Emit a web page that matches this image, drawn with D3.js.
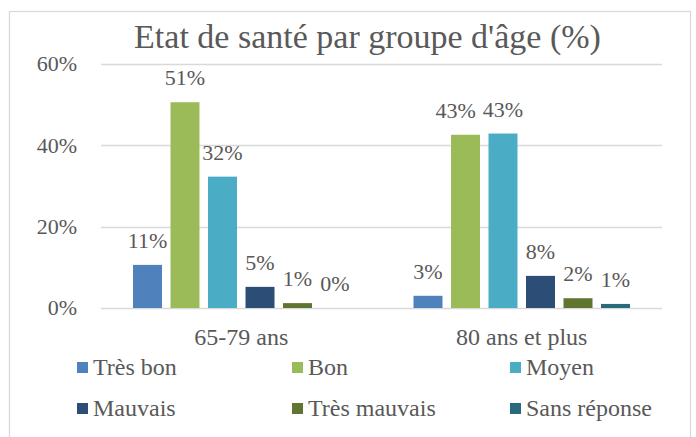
<!DOCTYPE html>
<html>
<head>
<meta charset="utf-8">
<script src="https://cdn.jsdelivr.net/npm/d3@7"></script>
<style>
  body { margin: 0; background: #fff; }
</style>
</head>
<body>
<svg id="chart"></svg>
<script>
// Chart data
const groups = ["65-79 ans", "80 ans et plus"];
const categories = ["Très bon", "Bon", "Moyen", "Mauvais", "Très mauvais", "Sans réponse"];
const values6579 = [10.6, 50.6, 32.3, 5.2, 1.2, 0];
const values80 = [3.0, 42.6, 42.9, 7.9, 2.4, 1.0];
const labels6579 = ["11%", "51%", "32%", "5%", "1%", "0%"];
const labels80 = ["3%", "43%", "43%", "8%", "2%", "1%"];
const colors = ["#4f81bd", "#9bbb59", "#4bacc6", "#2c4d75", "#5f7530", "#276a7c"];
const yTicks = [0, 20, 40, 60];

const FONT = '"Liberation Serif"';
const TEXT_COLOR = "#595959";

const chart = {
    width: 696,
    height: 437,
    margin: { left: 101, right: 34, top: 64, bottom: 129 }
};

const svg = d3.select("#chart")
    .attr("width", chart.width)
    .attr("height", chart.height);

// outer frame
svg.append("rect")
    .attr("x", 9.5)
    .attr("y", 11.5)
    .attr("width", 681)
    .attr("height", 440)
    .attr("fill", "none")
    .attr("stroke", "#d9d9d9")
    .attr("stroke-width", 1.3);

function addText(sel) {
    return sel.style("font-family", FONT).attr("fill", TEXT_COLOR);
}

addText(svg.append("text"))
    .attr("x", 367.5)
    .attr("y", 48)
    .attr("text-anchor", "middle")
    .attr("font-size", 34)
    .text("Etat de santé par groupe d'âge (%)");

const x0 = d3.scaleBand()
    .domain(groups)
    .range([chart.margin.left, chart.width - chart.margin.right]);

const x1 = d3.scaleBand()
    .domain(categories)
    .range([0, x0.bandwidth()])
    .paddingInner(0.227)
    .paddingOuter(0.853);

const y = d3.scaleLinear()
    .domain([0, 60])
    .range([chart.height - chart.margin.bottom, chart.margin.top]);

// gridlines
svg.append("g")
    .selectAll("line")
    .data(yTicks)
    .join("line")
    .attr("x1", chart.margin.left)
    .attr("x2", chart.width - chart.margin.right)
    .attr("y1", d => Math.round(y(d)) + 0.5)
    .attr("y2", d => Math.round(y(d)) + 0.5)
    .attr("stroke", "#d9d9d9")
    .attr("stroke-width", 1.5);

// y labels
addText(svg.append("g")
    .selectAll("text")
    .data(yTicks)
    .join("text"))
    .attr("x", 77)
    .attr("y", d => y(d))
    .attr("dy", "0.34em")
    .attr("text-anchor", "end")
    .attr("font-size", 22)
    .text(d => d + "%");

// bars
const seriesData = [values6579, values80];
const labelData = [labels6579, labels80];

const groupG = svg.append("g")
    .selectAll("g")
    .data(groups)
    .join("g")
    .attr("transform", d => `translate(${x0(d)},0)`);

groupG.selectAll("rect")
    .data((g, gi) => categories.map((c, i) => ({ c, v: seriesData[gi][i], color: colors[i] })))
    .join("rect")
    .attr("x", d => x1(d.c))
    .attr("width", x1.bandwidth())
    .attr("y", d => y(d.v))
    .attr("height", d => y(0) - y(d.v))
    .attr("fill", d => d.color);

addText(groupG.selectAll("text")
    .data((g, gi) => categories.map((c, i) => ({ c, v: seriesData[gi][i], label: labelData[gi][i] })))
    .join("text"))
    .attr("x", d => x1(d.c) + x1.bandwidth() / 2)
    .attr("y", d => y(d.v) - 17)
    .attr("text-anchor", "middle")
    .attr("font-size", 22)
    .text(d => d.label);

// push a label left when it collides with its right neighbour at the same height
groupG.each(function () {
    const nodes = d3.select(this).selectAll("text").nodes();
    for (let i = nodes.length - 2; i >= 0; i--) {
        const a = nodes[i].getBBox();
        const b = nodes[i + 1].getBBox();
        const sameRow = Math.abs(a.y - b.y) < a.height;
        const overlap = a.x + a.width - b.x;
        if (sameRow && overlap > -4) {
            const cur = +nodes[i].getAttribute("x");
            nodes[i].setAttribute("x", cur - overlap - 7);
        }
    }
});

// category labels
addText(svg.append("g")
    .selectAll("text")
    .data(groups)
    .join("text"))
    .attr("x", d => x0(d) + x0.bandwidth() / 2)
    .attr("y", 345)
    .attr("text-anchor", "middle")
    .attr("font-size", 24)
    .text(d => d);

// legend, 3 columns x 2 rows
const legendCols = [77, 292, 510];
const legendRows = [375, 416];

const legend = svg.append("g")
    .selectAll("g")
    .data(categories)
    .join("g")
    .attr("transform", (d, i) => `translate(${legendCols[i % 3]},${legendRows[Math.floor(i / 3)]})`);

legend.append("rect")
    .attr("x", 0)
    .attr("y", -13)
    .attr("width", 11)
    .attr("height", 11)
    .attr("fill", (d, i) => colors[i]);

addText(legend.append("text"))
    .attr("x", 16)
    .attr("y", 0)
    .attr("font-size", 24)
    .text(d => d);
</script>
</body>
</html>
